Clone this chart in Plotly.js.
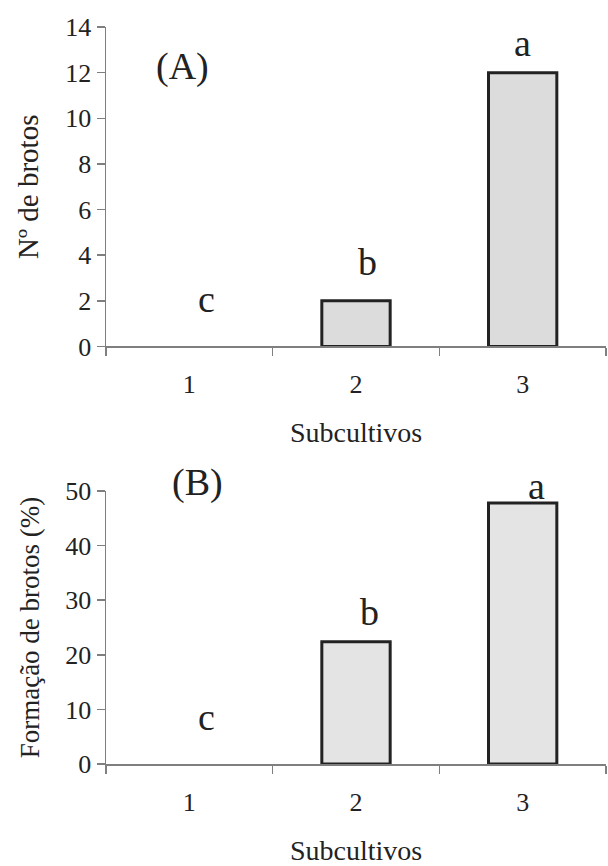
<!DOCTYPE html>
<html>
<head>
<meta charset="utf-8">
<script src="https://cdn.plot.ly/plotly-3.0.1.min.js"></script>
<style>html,body{margin:0;padding:0;background:#fff;}#chart{width:608px;height:866px;}</style>
</head>
<body>
<div id="chart"></div>
<script>
// ---- data ----
const subcultivos = ['1', '2', '3'];
const nBrotos = [0, 2, 12];             // (A) Nº de brotos
const formacaoBrotos = [0, 22.4, 47.8]; // (B) Formação de brotos (%)
const lettersA = ['c', 'b', 'a'];
const lettersB = ['c', 'b', 'a'];
const panelLabels = ['(A)', '(B)'];
const yTicksA = [0, 2, 4, 6, 8, 10, 12, 14];
const yTicksB = [0, 10, 20, 30, 40, 50];

const serif = 'Liberation Serif';
const axisGray = '#7f7f7f';
const ink = '#222';

const outlineA = nBrotos.map(v => v > 0 ? 3 : 0);
const outlineB = formacaoBrotos.map(v => v > 0 ? 3 : 0);

const traceA = {
  type: 'bar', x: subcultivos, y: nBrotos, xaxis: 'x', yaxis: 'y', width: 0.41,
  marker: {color: '#dcdcdc', line: {color: ink, width: outlineA}},
  hoverinfo: 'skip', showlegend: false
};
const traceB = {
  type: 'bar', x: subcultivos, y: formacaoBrotos, xaxis: 'x2', yaxis: 'y2', width: 0.41,
  marker: {color: '#e4e4e4', line: {color: ink, width: outlineB}},
  hoverinfo: 'skip', showlegend: false
};

function xAxis(anchor) {
  return {
    anchor: anchor, type: 'category', range: [-0.5, 2.5], tickson: 'boundaries',
    ticks: 'outside', ticklen: 8, tickcolor: axisGray, tickwidth: 1.5,
    showline: true, linecolor: axisGray, linewidth: 1.5,
    showgrid: false, zeroline: false, fixedrange: true,
    tickfont: {family: serif, size: 26, color: ink},
    ticklabelstandoff: 14,
    title: {text: 'Subcultivos', font: {family: serif, size: 28, color: ink}, standoff: 24}
  };
}
function yAxis(anchor, domain, range, tickvals, title, size) {
  return {
    anchor: anchor, domain: domain, range: range, tickvals: tickvals,
    ticks: 'outside', ticklen: 8, tickcolor: axisGray, tickwidth: 1.5,
    showline: true, linecolor: axisGray, linewidth: 1.5,
    showgrid: false, zeroline: false, fixedrange: true,
    tickfont: {family: serif, size: 26, color: ink},
    title: {text: title, font: {family: serif, size: size, color: ink}, standoff: 18}
  };
}

function ann(xref, yref, x, y, text) {
  return {xref: xref, yref: yref, x: x, y: y, text: text, showarrow: false,
          xanchor: 'center', yanchor: 'middle', font: {family: serif, size: 38, color: ink}};
}
const annotations = [
  ann('x', 'y', 0.1, 2.1, lettersA[0]),
  ann('x', 'y', 1.07, 3.7, lettersA[1]),
  ann('x', 'y', 2.0, 13.3, lettersA[2]),
  ann('x', 'y', -0.04, 12.27, panelLabels[0]),
  ann('x2', 'y2', 0.1, 8.6, lettersB[0]),
  ann('x2', 'y2', 1.08, 27.8, lettersB[1]),
  ann('x2', 'paper', 2.08, 0.3772, lettersB[2]),
  ann('x2', 'paper', 0.05, 0.3813, panelLabels[1])
];

const layout = {
  width: 608, height: 866,
  margin: {l: 106, r: 2, t: 27, b: 102},
  paper_bgcolor: '#fff', plot_bgcolor: '#fff',
  font: {family: serif, color: ink},
  xaxis: xAxis('y'),
  yaxis: yAxis('x', [0.5665, 1], [0, 14], yTicksA, 'Nº de brotos', 29),
  xaxis2: xAxis('y2'),
  yaxis2: yAxis('x2', [0, 0.3704], [0, 50], yTicksB, 'Formação de brotos (%)', 27),
  annotations: annotations
};

Plotly.newPlot('chart', [traceA, traceB], layout, {staticPlot: true, displayModeBar: false});
</script>
</body>
</html>
